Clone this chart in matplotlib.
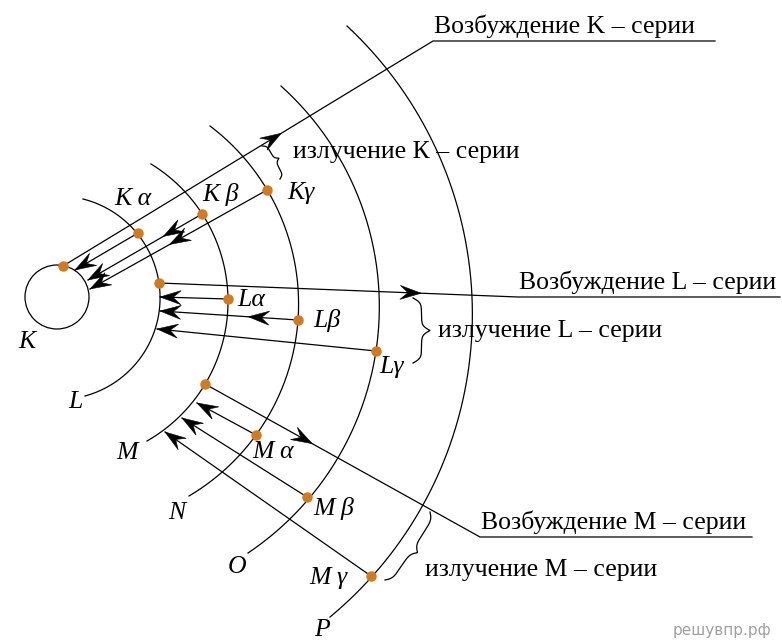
#!/usr/bin/env python3
# X-ray series diagram: shells, excitation lines and emission transitions

import numpy as np
import matplotlib.pyplot as plt
from matplotlib.patches import Circle, Polygon


# Geometry (pixel coordinates, y grows downward)
nucleus_center = (57, 297)
nucleus_radius = 32
nucleus_label_xy = (27, 342)

shell_names = ["L", "M", "N", "O", "P"]
shell_start = [(83, 199), (151, 164), (210, 126), (281, 86), (347, 26)]
shell_through = [(159, 283), (228, 299), (298, 320), (376, 351), (472, 297)]
shell_end = [(85, 396), (147, 441), (189, 496), (248, 553), (330, 617)]
shell_label_xy = [(75, 402), (127, 453), (177, 513), (237, 567), (322, 630)]

# excitation (ionisation) paths
excite_text = ["Возбуждение K – серии", "Возбуждение L – серии", "Возбуждение M – серии"]
excite_start = [(63, 266), (159, 283), (205, 384)]
excite_corner = [(433, 41), (518, 297), (480, 537)]
excite_end_x = [715, 780, 752]
excite_arrow_frac = [0.59, 0.73, 0.39]

# emission transitions
emit_names = ["K α", "K β", "Kγ", "Lα", "Lβ", "Lγ", "M α", "M β", "M γ"]
emit_from = [(138, 233), (202, 214), (267, 190), (228, 299), (298, 320),
             (376, 351), (256, 435), (307, 497), (371, 576)]
emit_to = [(75, 270), (88, 280), (90, 289), (160, 297), (160, 311),
           (157, 329), (197, 403), (182, 418), (165, 432)]
emit_mid_frac = [None, 0.34, 0.55, None, 0.36, None, None, None, None]
emit_label_xy = [(133, 199), (221, 195), (301, 193), (251, 300), (327, 321),
                 (392, 367), (273, 452), (334, 508), (328, 578)]

# braces grouping each emission series
brace_text = ["излучение К – серии", "излучение L – серии", "излучение М – серии"]
brace_p1 = [(262, 146), (413, 298), (430, 512)]
brace_p2 = [(280, 179), (413, 363), (385, 580)]
brace_width = [-9, -17, -12]
brace_text_xy = [(293, 152), (438, 331), (425, 570)]

DOT_COLOR = "#d27a20"
SERIF = ["Liberation Serif", "DejaVu Serif"]
FS = 18.5


def circle_from_points(a, b, c):
    (x1, y1), (x2, y2), (x3, y3) = a, b, c
    d = 2 * (x1 * (y2 - y3) + x2 * (y3 - y1) + x3 * (y1 - y2))
    ux = ((x1**2 + y1**2) * (y2 - y3) + (x2**2 + y2**2) * (y3 - y1)
          + (x3**2 + y3**2) * (y1 - y2)) / d
    uy = ((x1**2 + y1**2) * (x3 - x2) + (x2**2 + y2**2) * (x1 - x3)
          + (x3**2 + y3**2) * (x2 - x1)) / d
    return np.array([ux, uy]), np.hypot(x1 - ux, y1 - uy)


def stealth(ax, tip, direction, length=21, half=7, notch=13):
    d = np.asarray(direction, float)
    d = d / np.linalg.norm(d)
    n = np.array([-d[1], d[0]])
    tip = np.asarray(tip, float)
    back = tip - d * length
    pts = [tip, back + n * half, tip - d * notch, back - n * half]
    ax.add_patch(Polygon(pts, closed=True, fc="k", ec="k", lw=0.4, zorder=4))


def brace(ax, p1, p2, width):
    p1, p2 = np.asarray(p1, float), np.asarray(p2, float)
    seg = p2 - p1
    L = np.linalg.norm(seg)
    t = seg / L
    n = np.array([-t[1], t[0]])
    u = np.linspace(0, L / 2, 80)
    beta = 14.0 / (L / 2)
    v = 1 / (1 + np.exp(-beta * (u - u[0]))) + 1 / (1 + np.exp(-beta * (u - u[-1])))
    v = np.concatenate([v, v[::-1]]) - 0.5
    uu = np.concatenate([u, L - u[::-1]])
    pts = p1 + np.outer(uu, t) + np.outer(v * width, n)
    ax.plot(pts[:, 0], pts[:, 1], color="k", lw=0.9)


def main():
    fig = plt.figure(figsize=(7.82, 6.41), dpi=100)
    ax = fig.add_axes([0, 0, 1, 1])
    ax.set_xlim(0, 782)
    ax.set_ylim(641, 0)
    ax.axis("off")

    # K shell (nucleus circle)
    ax.add_patch(Circle(nucleus_center, nucleus_radius, fill=False, ec="k", lw=0.9))
    ax.text(*nucleus_label_xy, "K", family=SERIF, style="italic", fontsize=FS,
            ha="center", va="center")

    # outer shells as arcs
    for name, s, m, e, lxy in zip(shell_names, shell_start, shell_through,
                                  shell_end, shell_label_xy):
        c, r = circle_from_points(s, m, e)
        a0 = np.arctan2(s[1] - c[1], s[0] - c[0])
        a1 = np.arctan2(e[1] - c[1], e[0] - c[0])
        th = np.linspace(a0, a1, 300)
        ax.plot(c[0] + r * np.cos(th), c[1] + r * np.sin(th), color="k", lw=0.9)
        ax.text(*lxy, name, family=SERIF, style="italic", fontsize=FS,
                ha="center", va="center")

    # excitation lines with label shelves
    for txt, s, cn, xe, f in zip(excite_text, excite_start, excite_corner,
                                 excite_end_x, excite_arrow_frac):
        ax.plot([s[0], cn[0], xe], [s[1], cn[1], cn[1]], color="k", lw=0.9)
        s, cn = np.array(s, float), np.array(cn, float)
        stealth(ax, s + f * (cn - s), cn - s)
        ax.text(cn[0] + 1, cn[1] - 8, txt, family=SERIF, fontsize=FS,
                ha="left", va="baseline")
        ax.plot(*s, "o", color=DOT_COLOR, ms=6.5, zorder=5)

    # emission transitions
    for name, a, b, f, lxy in zip(emit_names, emit_from, emit_to,
                                  emit_mid_frac, emit_label_xy):
        a, b = np.array(a, float), np.array(b, float)
        ax.plot([a[0], b[0]], [a[1], b[1]], color="k", lw=0.9)
        stealth(ax, b, b - a)
        if f is not None:
            stealth(ax, a + f * (b - a), b - a)
        ax.plot(*a, "o", color=DOT_COLOR, ms=6.5, zorder=5)
        ax.text(*lxy, name, family=SERIF, style="italic", fontsize=FS,
                ha="center", va="center")

    # braces and series captions
    for txt, p1, p2, w, txy in zip(brace_text, brace_p1, brace_p2,
                                   brace_width, brace_text_xy):
        brace(ax, p1, p2, w)
        ax.text(*txy, txt, family=SERIF, fontsize=FS, ha="left", va="center")

    ax.text(771, 631, "решувпр.рф", color="#a0a0a0", fontsize=11,
            ha="right", va="center")

    fig.savefig("out.png", dpi=100)


if __name__ == "__main__":
    main()
